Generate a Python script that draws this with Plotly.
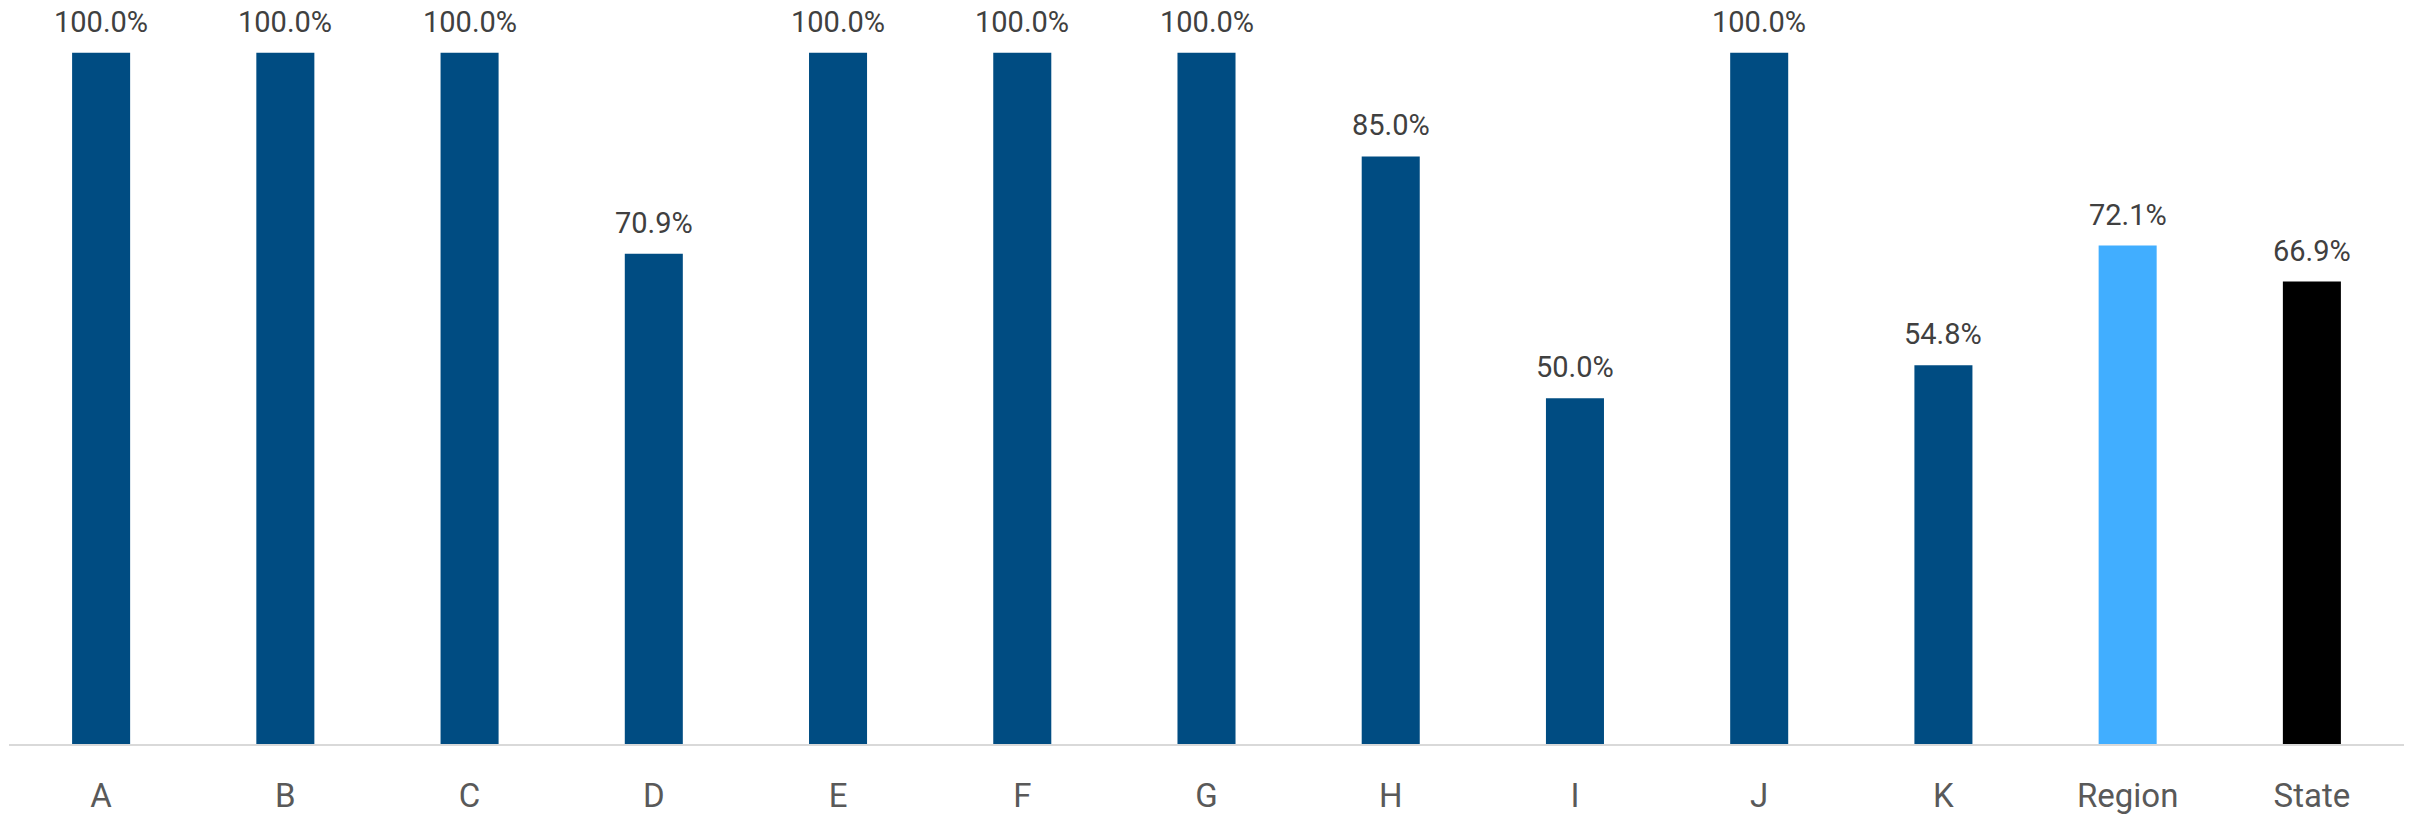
import plotly.graph_objects as go

categories = ["A", "B", "C", "D", "E", "F", "G", "H", "I", "J", "K", "Region", "State"]
values = [1.0, 1.0, 1.0, 0.709, 1.0, 1.0, 1.0, 0.85, 0.50, 1.0, 0.548, 0.721, 0.669]
labels = ["100.0%", "100.0%", "100.0%", "70.9%", "100.0%", "100.0%", "100.0%", "85.0%",
          "50.0%", "100.0%", "54.8%", "72.1%", "66.9%"]
colors = ["#004C82"] * 11 + ["#41AEFF", "#000000"]

FONT = "Roboto"

fig = go.Figure()
fig.add_trace(go.Bar(
    x=categories, y=values,
    marker=dict(color=colors, line=dict(width=0)),
    hoverinfo="skip",
))

for c, v, t in zip(categories, values, labels):
    fig.add_annotation(x=c, y=v, text=t, showarrow=False, yanchor="middle",
                       yshift=31, font=dict(family=FONT, size=29, color="#404040"))

fig.update_layout(
    width=2410, height=815,
    margin=dict(l=9, r=6, t=0, b=66),
    paper_bgcolor="white", plot_bgcolor="white",
    bargap=0.685,
    showlegend=False,
    xaxis=dict(
        showline=True, linecolor="#D9D9D9", linewidth=2,
        showgrid=False, zeroline=False, ticks="",
        tickfont=dict(family=FONT, size=33, color="#595959"),
        ticklabelstandoff=21,
    ),
    yaxis=dict(
        range=[0, 1.0762], visible=False, showgrid=False, zeroline=False,
    ),
)

fig.write_html(
    "out.html",
    config={"displayModeBar": False},
    post_script="document.body.style.margin='0';document.body.style.overflow='hidden';",
)
